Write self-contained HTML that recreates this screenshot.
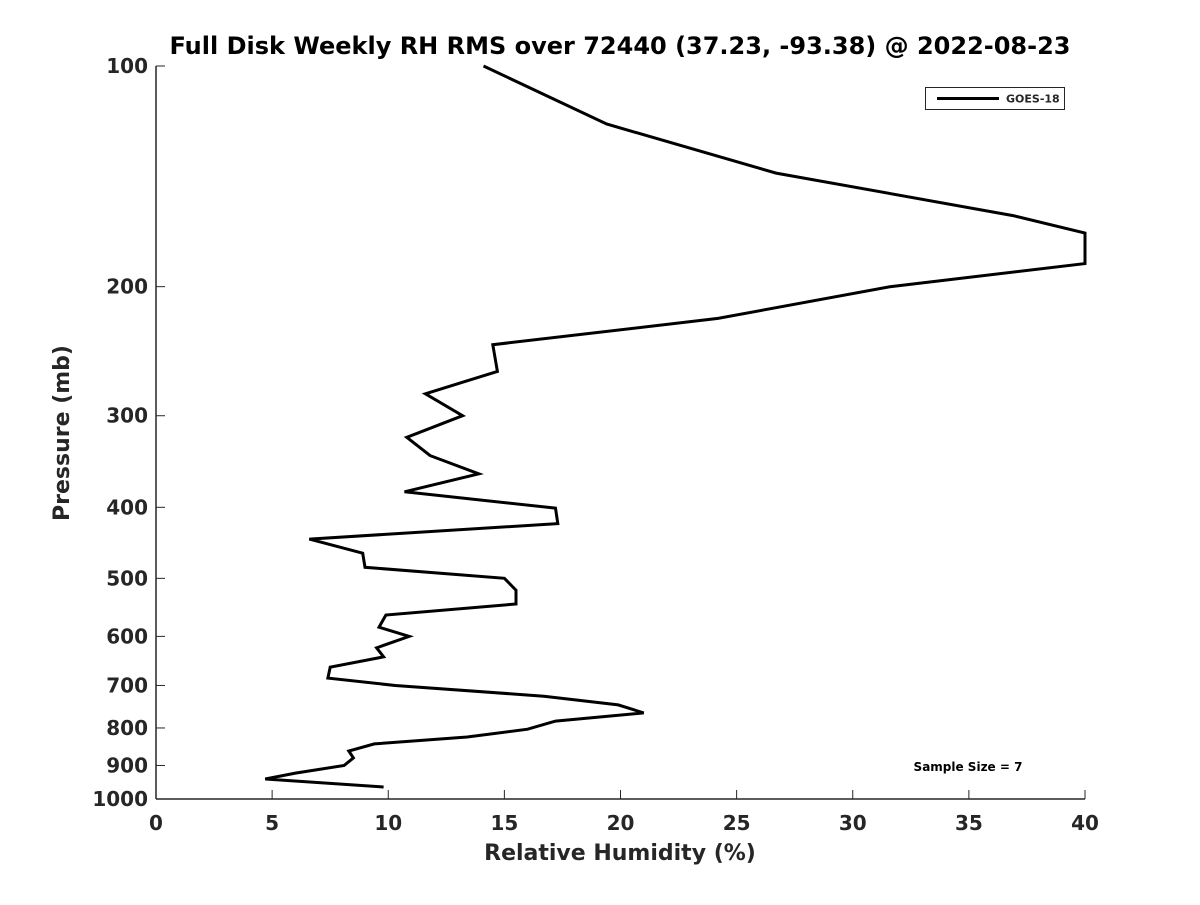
<!DOCTYPE html>
<html><head><meta charset="utf-8"><style>
body{margin:0;background:#fff;}
svg text{font-family:"DejaVu Sans","Liberation Sans",sans-serif;font-weight:bold;fill:#262626;}
</style></head><body>
<svg id="chart" width="1200" height="900" xmlns="http://www.w3.org/2000/svg">
<rect width="1200" height="900" fill="#fff"/>
<text x="620" y="54" text-anchor="middle" font-size="24" style="fill:#000">Full Disk Weekly RH RMS over 72440 (37.23, -93.38) @ 2022-08-23</text>
<g id="axes"></g>
<path id="line" fill="none" stroke="#000" stroke-width="3" stroke-linejoin="miter"/>
<text x="69" y="433" transform="rotate(-90 69 433)" text-anchor="middle" font-size="22">Pressure (mb)</text>
<text x="620" y="860" text-anchor="middle" font-size="22">Relative Humidity (%)</text>
<g>
<rect x="925.5" y="87.5" width="139" height="22" fill="#fff" stroke="#262626" stroke-width="1"/>
<line x1="937" y1="98.5" x2="999" y2="98.5" stroke="#000" stroke-width="3"/>
<text x="1006" y="102.5" font-size="11">GOES-18</text>
</g>
<text x="968" y="771" text-anchor="middle" font-size="12" style="fill:#000">Sample Size = 7</text>
</svg>
<script>
const pressures=[100,120,140,160,169,186,200,221,240,261,280,300,321,340,360,381,401,421,442,462,483,500,519,542,561,583,600,622,640,661,684,700,724,744,763,783,803,823,841,860,879,900,922,939,963];
const rhValues=[14.1,19.4,26.7,36.9,40,40,31.6,24.2,14.5,14.7,11.6,13.2,10.8,11.8,13.9,10.7,17.2,17.3,6.6,8.9,9.0,15.0,15.5,15.5,9.9,9.6,10.9,9.5,9.8,7.5,7.4,10.3,16.7,19.9,21.0,17.2,16.0,13.4,9.4,8.3,8.5,8.1,6.0,4.7,9.8];
const xTicks=[0,5,10,15,20,25,30,35,40];
const yTicks=[100,200,300,400,500,600,700,800,900,1000];
const X0=156,X1=1085,Y0=66,Y1=799;
function xs(v){return X0+(v-0)/(40-0)*(X1-X0);}
function ys(p){return Y0+(Math.log10(p)-2)/(3-2)*(Y1-Y0);}
const NS="http://www.w3.org/2000/svg";
const ax=document.getElementById('axes');
function mk(tag,attrs){const e=document.createElementNS(NS,tag);for(const k in attrs)e.setAttribute(k,attrs[k]);return e;}
const yl=mk('line',{x1:X0,y1:Y0,x2:X0,y2:Y1,stroke:'#262626','stroke-width':1.5});


ax.appendChild(yl);
const xl=mk('line',{x1:X0,y1:Y1,x2:X1,y2:Y1,stroke:'#262626','stroke-width':1.5});


ax.appendChild(xl);
xTicks.forEach(t=>{
  const x=xs(t);
  const l=mk('line',{x1:x,y1:Y1,x2:x,y2:Y1-9,stroke:'#262626','stroke-width':1});
  
  
  ax.appendChild(l);
  const tx=mk('text',{x:x,y:830,'text-anchor':'middle','font-size':20});
  
  
  tx.textContent=t;ax.appendChild(tx);
});
yTicks.forEach(t=>{
  const y=ys(t);
  const l=mk('line',{x1:X0,y1:y,x2:X0+9,y2:y,stroke:'#262626','stroke-width':1});
  
  
  ax.appendChild(l);
  const tx=mk('text',{x:148,y:y+7,'text-anchor':'end','font-size':20});
  
  
  tx.textContent=t;ax.appendChild(tx);
});
let d='';
pressures.forEach((p,i)=>{d+=(i?'L':'M')+xs(rhValues[i]).toFixed(1)+','+ys(p).toFixed(1);});
document.getElementById('line').setAttribute('d',d);
</script>
</body></html>
